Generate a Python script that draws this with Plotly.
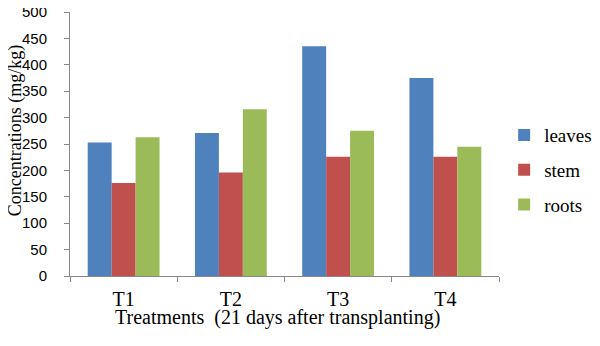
import plotly.graph_objects as go

categories = ["T1", "T2", "T3", "T4"]
leaves = [253, 271, 435, 375]
stem = [176, 196, 226, 226]
roots = [263, 316, 275, 245]
y_ticks = [0, 50, 100, 150, 200, 250, 300, 350, 400, 450, 500]

series = [("leaves", leaves, "#4F81BD"), ("stem", stem, "#C0504D"), ("roots", roots, "#9BBB59")]

fig = go.Figure()
for name, vals, col in series:
    fig.add_trace(go.Bar(x=categories, y=vals, name=name, marker_color=col,
                         marker_line_width=0, legendgroup=name))

serif = "Liberation Serif, Times New Roman, serif"
sans = "Liberation Sans, Arial, sans-serif"

# the page body adds an 8px offset, so the figure is 8px smaller on each axis
fig.update_layout(
    width=592, height=338,
    margin=dict(l=62, r=101, t=4, b=70, autoexpand=False),
    paper_bgcolor="white", plot_bgcolor="white",
    bargap=0.33, bargroupgap=0,
    showlegend=True,
    legend=dict(x=1.012, y=0.401, xanchor="left", yanchor="middle",
                font=dict(family=serif, size=19, color="black"),
                tracegroupgap=7, itemwidth=30),
    xaxis=dict(showline=True, linecolor="#888888", linewidth=1, automargin=False,
               ticks="outside", tickson="boundaries", ticklen=5, tickcolor="#888888",
               ticklabelstandoff=5,
               tickfont=dict(family=serif, size=20, color="black"),
               showgrid=False),
    yaxis=dict(range=[0, 500], tickvals=y_ticks, showline=True, linecolor="#888888",
               linewidth=1, ticks="outside", ticklen=5, tickcolor="#888888",
               automargin=False, ticklabelstandoff=14, ticklabeloverflow="allow",
               tickfont=dict(family=sans, size=15, color="black"),
               showgrid=False, zeroline=False),
    annotations=[
        dict(text="Concentrations (mg/kg)", textangle=-90,
             xref="paper", yref="paper", x=-0.127, y=0.55,
             xanchor="center", yanchor="middle", showarrow=False,
             font=dict(family=serif, size=18, color="black")),
        dict(text="Treatments  (21 days after transplanting)",
             xref="paper", yref="paper", x=0.484, y=-0.159,
             xanchor="center", yanchor="middle", showarrow=False,
             font=dict(family=serif, size=20, color="black")),
    ],
)

fig.write_html("out.html")
